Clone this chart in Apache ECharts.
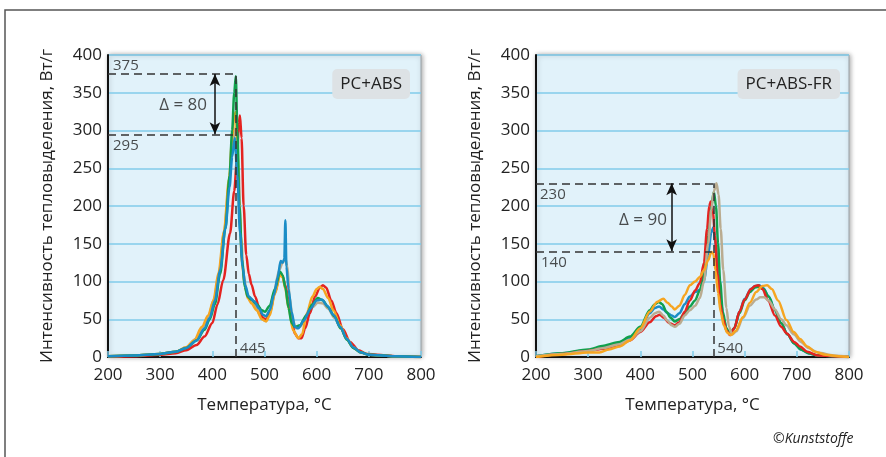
<!DOCTYPE html>
<html>
<head>
<meta charset="utf-8">
<script src="https://cdn.jsdelivr.net/npm/echarts@6/dist/echarts.min.js"></script>
<style>
  html, body { margin: 0; padding: 0; background: #fff; }
  #chart { width: 886px; height: 457px; }
</style>
</head>
<body>
<div id="chart"></div>
<script>
// x ticks (temperature, °C) and y ticks (W/g)
const xTicks = [200, 300, 400, 500, 600, 700, 800];
const yTicks = [0, 50, 100, 150, 200, 250, 300, 350, 400];

// PC+ABS curves, [temperature, heat release]
const absTan = [[200,1],[250,2],[300,4],[330,7],[350,13],[368,24],[382,40],[393,55],[403,76],[413,112],[423,168],[432,230],[438,275],[443,300],[446,305],[450,250],[455,160],[460,110],[466,85],[472,76],[482,68],[492,55],[500,48],[508,55],[518,85],[528,115],[535,125],[540,130],[544,120],[548,80],[554,50],[560,38],[568,40],[580,52],[592,66],[602,72],[612,71],[622,64],[634,52],[646,38],[658,23],[670,12],[685,6],[700,3],[750,1],[800,0]];
const absRed = [[200,0],[250,1],[300,3],[330,5],[350,9],[370,16],[385,27],[400,45],[410,70],[421,102],[434,164],[442,220],[447,260],[451,310],[453,320],[456,290],[460,200],[465,135],[470,110],[475,96],[482,80],[490,65],[497,52],[503,49],[510,58],[520,85],[530,111],[534,108],[540,95],[546,75],[552,50],[558,31],[565,25],[571,25],[578,38],[587,58],[597,80],[606,92],[612,95],[618,92],[628,75],[638,58],[650,37],[664,20],[680,9],[696,4],[750,1],[800,0]];
const absOrange = [[200,1],[250,2],[300,4],[330,7],[350,13],[365,22],[380,40],[392,55],[402,75],[412,112],[422,165],[432,235],[438,290],[442,318],[445,325],[448,280],[452,190],[457,125],[462,95],[468,78],[475,71],[485,62],[495,50],[503,47],[510,55],[520,84],[530,109],[535,105],[540,90],[546,65],[555,35],[565,25],[572,30],[581,58],[592,80],[600,90],[606,93],[612,90],[622,78],[632,62],[645,42],[657,25],[670,13],[685,6],[700,3],[750,1],[800,0]];
const absGreen = [[200,1],[250,2],[300,4],[330,7],[350,12],[370,22],[385,36],[395,50],[405,70],[415,110],[425,170],[433,240],[438,300],[442,350],[445,372],[448,300],[452,200],[457,130],[462,93],[468,80],[475,76],[485,70],[495,62],[501,60],[510,68],[520,90],[530,113],[535,108],[540,92],[546,65],[552,45],[558,40],[568,42],[580,55],[592,70],[602,78],[612,75],[622,66],[634,54],[646,38],[658,23],[670,12],[685,6],[700,3],[750,1],[800,0]];
const absBlue = [[200,1],[250,2],[300,4],[330,7],[350,12],[370,22],[385,38],[395,52],[405,75],[415,115],[425,170],[433,225],[438,265],[443,290],[448,240],[453,165],[458,120],[463,95],[470,80],[480,74],[490,64],[497,56],[503,54],[510,62],[518,82],[525,105],[531,127],[535,125],[538,130],[540,181],[542,120],[546,90],[552,60],[558,40],[565,38],[575,48],[588,64],[600,75],[610,76],[620,68],[632,56],[645,40],[658,24],[670,13],[685,6],[700,3],[750,1],[800,0]];

// PC+ABS-FR curves
const frBlue = [[200,1],[250,5],[300,9],[330,13],[360,18],[380,25],[400,37],[418,58],[428,65],[436,67],[444,63],[452,58],[460,55],[466,53],[475,58],[485,70],[495,80],[505,86],[514,89],[522,100],[530,135],[536,165],[540,172],[544,150],[549,110],[554,75],[560,50],[566,35],[572,30],[580,38],[590,60],[600,77],[612,90],[620,94],[628,95],[636,91],[646,80],[658,62],[670,45],[682,30],[695,18],[708,10],[722,5],[740,2],[770,1],[800,0]];
const frGreen = [[200,1],[250,5],[300,10],[330,15],[360,20],[380,27],[400,40],[418,62],[428,70],[435,73],[442,70],[450,60],[458,52],[466,47],[475,50],[485,58],[495,67],[505,75],[514,88],[522,110],[530,160],[536,200],[541,219],[545,200],[549,150],[553,100],[558,60],[565,38],[572,30],[580,38],[590,58],[600,75],[610,86],[620,92],[628,93],[636,90],[646,80],[658,62],[670,45],[682,30],[695,18],[708,10],[722,5],[740,2],[770,1],[800,0]];
const frRed = [[200,0],[250,4],[300,8],[330,11],[360,16],[380,22],[400,33],[418,46],[430,54],[437,56],[445,52],[455,45],[466,42],[475,46],[485,60],[495,75],[505,88],[514,98],[522,125],[528,170],[532,200],[535,206],[539,195],[543,160],[548,110],[553,70],[559,49],[565,35],[572,29],[580,38],[590,60],[600,76],[612,90],[620,94],[626,95],[634,90],[645,75],[658,55],[670,40],[681,31],[695,20],[706,14],[720,7],[740,2],[770,1],[800,0]];
const frTan = [[200,1],[250,4],[300,8],[330,12],[360,17],[380,23],[400,34],[418,52],[428,58],[436,60],[444,55],[452,48],[460,42],[466,40],[475,44],[485,55],[495,62],[505,68],[514,78],[522,100],[530,150],[536,195],[541,220],[546,230],[550,215],[554,170],[559,115],[565,65],[570,40],[576,30],[584,34],[597,52],[610,68],[622,76],[630,79],[637,79],[646,75],[658,63],[670,50],[680,42],[694,30],[708,20],[722,12],[740,6],[770,2],[800,0]];
const frOrange = [[200,0],[250,3],[300,6],[322,6],[340,10],[361,14],[380,22],[400,38],[418,60],[432,73],[444,77],[452,72],[460,67],[466,63],[475,68],[485,82],[495,95],[505,100],[514,106],[522,115],[530,128],[536,139],[540,137],[544,115],[549,85],[554,60],[560,42],[567,32],[574,29],[582,34],[597,53],[610,72],[622,86],[634,94],[643,95],[652,90],[664,75],[680,49],[694,33],[706,24],[720,14],[735,7],[755,3],[780,1],[800,0]];

// annotation values
const absPeak = [445, 375];   // temperature, max
const absLow = 295;
const absArrowX = 405;
const absDelta = [344, 334, 'Δ = 80'];
const frPeak = [540, 230];
const frLow = 140;
const frArrowX = 460;
const frDelta = [405, 181, 'Δ = 90'];

const FONT = '"Open Sans", "Noto Sans", sans-serif';
const colors = { red: '#e42320', orange: '#f6a521', green: '#11a04c', blue: '#1a8dc6', tan: '#baac90' };

const chart = echarts.init(document.getElementById('chart'));

function curve(idx, data, color) {
  return {
    type: 'line', xAxisIndex: idx, yAxisIndex: idx, data: data,
    showSymbol: false, smooth: 0.3, smoothMonotone: 'x',
    lineStyle: { color: color, width: 2.5 }, silent: true
  };
}

function annot(idx, peak, low, arrowX, delta) {
  const dash = { type: [8, 5], color: '#333', width: 1.5 };
  const lbl = (txt, pos) => ({ show: true, formatter: txt, position: pos, align: 'left', verticalAlign: 'middle', fontSize: 15, color: '#222', fontFamily: FONT });
  return {
    type: 'scatter', xAxisIndex: idx, yAxisIndex: idx, symbolSize: 0, silent: true, z: 5,
    data: [
      { value: [200, peak[1]], label: lbl(String(peak[1]), idx === 0 ? [5, -8] : [4, 11]) },
      { value: [200, low], label: lbl(String(low), [5, 11]) },
      { value: [peak[0], 0], label: lbl(String(peak[0]), [4, -8]) },
      { value: [delta[0], delta[1]], label: { show: true, formatter: delta[2], position: 'inside', fontSize: 17, color: '#222', fontFamily: FONT } }
    ],
    markLine: {
      silent: true, symbol: ['none', 'none'], label: { show: false }, animation: false,
      lineStyle: dash,
      data: [
        [{ coord: [200, peak[1]] }, { coord: [peak[0], peak[1]] }],
        [{ coord: [200, low] }, { coord: [peak[0] - 3, low] }],
        [{ coord: [peak[0], 0] }, { coord: [peak[0], peak[1]] }],
        [{ coord: [arrowX, peak[1]], symbol: 'arrow', symbolSize: [8, 12], lineStyle: { type: 'solid', color: '#111', width: 1.5 } },
         { coord: [arrowX, low], symbol: 'arrow', symbolSize: [8, 12] }]
      ]
    }
  };
}

const grids = [
  { left: 108, top: 55, width: 313, height: 302 },
  { left: 536, top: 55, width: 313, height: 302 }
].map(g => Object.assign(g, {
  show: true, backgroundColor: '#e1f2fa', borderColor: '#9aa3a8', borderWidth: 1,
  shadowColor: 'rgba(0,0,0,0.35)', shadowBlur: 5, shadowOffsetX: 1
}));

const xAxes = [0, 1].map(i => ({
  type: 'value', gridIndex: i, min: xTicks[0], max: xTicks[xTicks.length - 1], interval: 100,
  name: 'Температура, °C', nameLocation: 'middle', nameGap: 40,
  nameTextStyle: { fontSize: 17, color: '#222', fontFamily: FONT },
  axisLine: { lineStyle: { color: '#111', width: 2 } },
  axisTick: { show: true, inside: true, length: 6, lineStyle: { color: '#7fcbea', width: 1.5 } },
  axisLabel: { fontSize: 17, color: '#222', fontFamily: FONT, margin: 10 },
  splitLine: { show: false }
}));

const yAxes = [0, 1].map(i => ({
  type: 'value', gridIndex: i, min: yTicks[0], max: yTicks[yTicks.length - 1], interval: 50,
  name: 'Интенсивность тепловыделения, Вт/г', nameLocation: 'middle', nameGap: 52, nameRotate: 90,
  nameTextStyle: { fontSize: 17, color: '#222', fontFamily: FONT },
  axisLine: { show: true, lineStyle: { color: '#111', width: 2 } },
  axisTick: { show: false },
  axisLabel: { fontSize: 17, color: '#222', fontFamily: FONT, margin: 6 },
  splitLine: { show: true, lineStyle: { color: '#80cbea', width: 1.5 } }
}));

const boxStyle = { fontSize: 17, fontWeight: 'normal', color: '#222', fontFamily: FONT, lineHeight: 20 };

chart.setOption({
  animation: false,
  grid: grids,
  xAxis: xAxes,
  yAxis: yAxes,
  title: [
    { text: 'PC+ABS', right: 476, top: 69, padding: [5, 8], backgroundColor: '#dde2e5', borderRadius: 5, textStyle: boxStyle },
    { text: 'PC+ABS-FR', right: 46, top: 69, padding: [5, 8], backgroundColor: '#dde2e5', borderRadius: 5, textStyle: boxStyle }
  ],
  graphic: [
    { type: 'rect', shape: { x: 5, y: 10, width: 900, height: 480 }, style: { fill: 'none', stroke: '#555', lineWidth: 1.5 }, silent: true },
    { type: 'text', left: 773, top: 432, style: { text: '©Kunststoffe', font: 'italic 14px ' + FONT, fill: '#222' } }
  ],
  series: [
    curve(0, absTan, colors.tan),
    curve(0, absRed, colors.red),
    curve(0, absOrange, colors.orange),
    curve(0, absGreen, colors.green),
    curve(0, absBlue, colors.blue),
    annot(0, absPeak, absLow, absArrowX, absDelta),
    curve(1, frBlue, colors.blue),
    curve(1, frGreen, colors.green),
    curve(1, frRed, colors.red),
    curve(1, frTan, colors.tan),
    curve(1, frOrange, colors.orange),
    annot(1, frPeak, frLow, frArrowX, frDelta)
  ]
});
</script>
</body>
</html>
